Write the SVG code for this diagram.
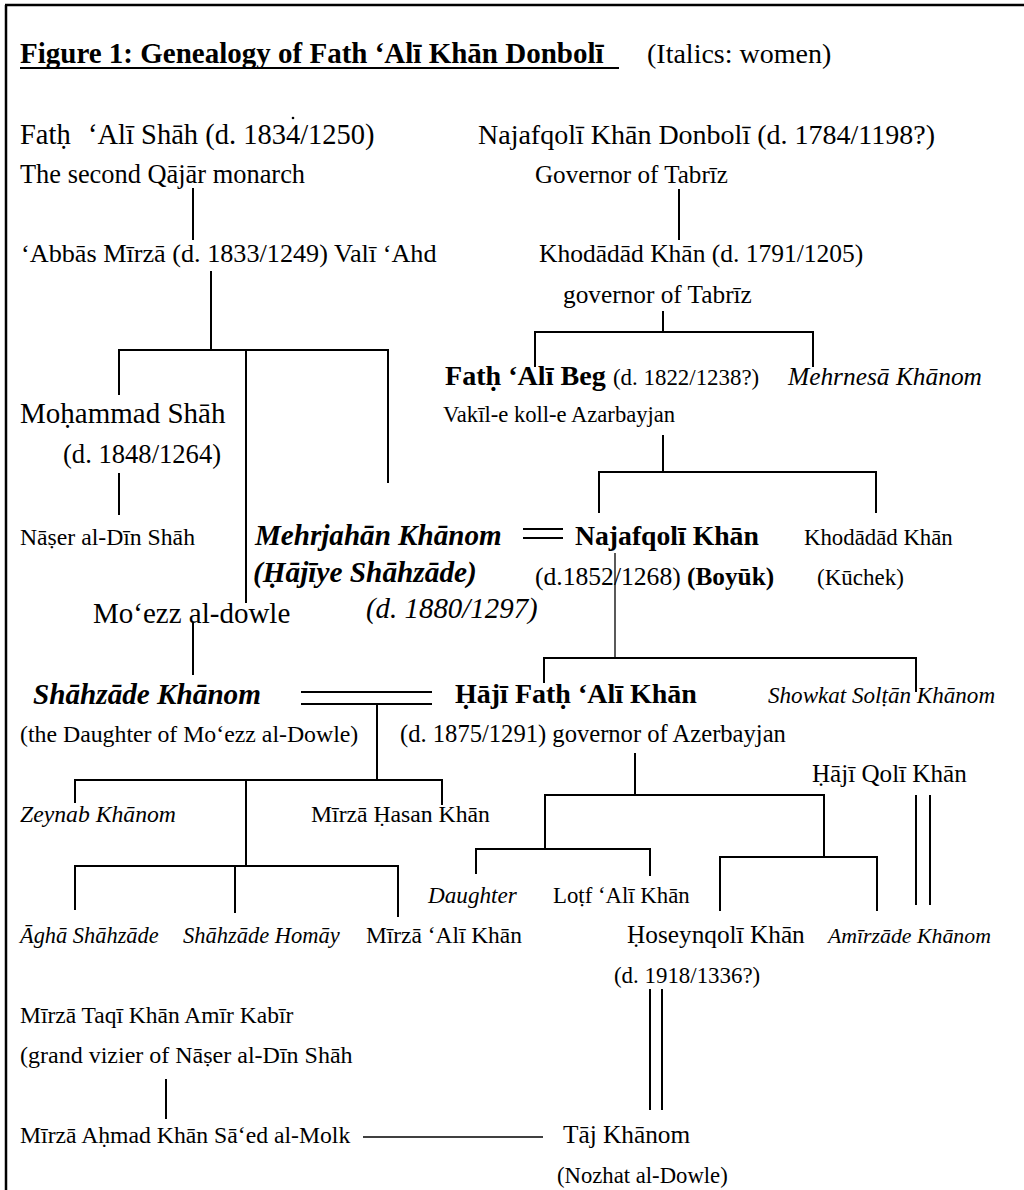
<svg xmlns="http://www.w3.org/2000/svg" width="1024" height="1190" viewBox="0 0 1024 1190">
<style>
text{font-family:"Liberation Serif","Times New Roman",serif;fill:#000}
.b{font-weight:bold}
.i{font-style:italic}
.bi{font-weight:bold;font-style:italic}
.ln line{stroke:#000;stroke-width:2;fill:none}
.ln line.t{stroke-width:1.3}
</style>
<rect width="1024" height="1190" fill="#fff"/>
<g id="frame" class="ln">
<line x1="5" y1="5" x2="1024" y2="5" style="stroke-width:2.5"/>
<line x1="6" y1="5" x2="6" y2="1190" style="stroke-width:2.5"/>
</g>
<g id="title">
<text x="20" y="63" class="b" font-size="29">Figure 1: Genealogy of Fath ‘Alī Khān Donbolī</text>
<line x1="20" y1="68" x2="619" y2="68" stroke="#000" stroke-width="2"/>
<text x="647" y="63" font-size="28">(Italics: women)</text>
</g>
<g id="n-fath-ali-shah">
<text x="20" y="144" font-size="28.5">Fath&#x323;<tspan x="88">‘Alī Shāh (d. 1834/1250)</tspan></text>
<circle cx="293" cy="118" r="1.3" fill="#000"/>
<text x="20" y="183" font-size="26.4">The second Qājār monarch</text>
</g>
<g id="n-abbas-mirza"><text x="21" y="262" font-size="26.2">‘Abbās Mīrzā (d. 1833/1249) Valī ‘Ahd</text></g>
<g id="n-najafqoli-donboli">
<text x="478" y="144" font-size="28">Najafqolī Khān Donbolī (d. 1784/1198?)</text>
<text x="535" y="183" font-size="25.1">Governor of Tabrīz</text>
</g>
<g id="n-khodadad-1">
<text x="539" y="262" font-size="25.5">Khodādād Khān (d. 1791/1205)</text>
<text x="563" y="303" font-size="25.3">governor of Tabrīz</text>
</g>
<g id="n-fath-ali-beg">
<text x="445" y="385"><tspan class="b" font-size="28.1">Fath&#x323; ‘Alī Beg</tspan><tspan x="613" font-size="22.9">(d. 1822/1238?)</tspan></text>
<text x="443" y="422" font-size="22.6">Vakīl-e koll-e Azarbayjan</text>
</g>
<g id="n-mehrnesa"><text x="788" y="385" class="i" font-size="25.4">Mehrnesā Khānom</text></g>
<g id="n-mohammad-shah">
<text x="20" y="423" font-size="29">Moh&#x323;ammad Shāh</text>
<text x="63" y="463" font-size="26.6">(d. 1848/1264)</text>
</g>
<g id="n-naser"><text x="20" y="545" font-size="23.7">Nās&#x323;er al-Dīn Shāh</text></g>
<g id="n-mehrjahan">
<text x="255" y="545" class="bi" font-size="29.1">Mehrjahān Khānom</text>
<text x="253" y="582" class="bi" font-size="29.3">(H&#x323;ājīye Shāhzāde)</text>
<text x="366" y="618" class="i" font-size="28.9">(d. 1880/1297)</text>
</g>
<g id="n-moezz"><text x="93" y="623" font-size="29">Mo‘ezz al-dowle</text></g>
<g id="n-najafqoli">
<text x="575" y="545" class="b" font-size="27.7">Najafqolī Khān</text>
<text x="535" y="585"><tspan font-size="25.6">(d.1852/1268)</tspan><tspan x="687" class="b" font-size="25.3">(Boyūk)</tspan></text>
</g>
<g id="n-khodadad-2">
<text x="804" y="545" font-size="22.8">Khodādād Khān</text>
<text x="817" y="585" font-size="23">(Kūchek)</text>
</g>
<g id="n-shahzade-khanom">
<text x="33" y="704" class="bi" font-size="29.2">Shāhzāde Khānom</text>
<text x="20" y="742" font-size="23.8">(the Daughter of Mo‘ezz al-Dowle)</text>
</g>
<g id="n-haji-fath-ali">
<text x="455" y="703" class="b" font-size="28">H&#x323;ājī Fath&#x323; ‘Alī Khān</text>
<text x="400" y="742" font-size="24.6">(d. 1875/1291) governor of Azerbayjan</text>
</g>
<g id="n-showkat"><text x="768" y="703" class="i" font-size="23.1">Showkat Solt&#x323;ān Khānom</text></g>
<g id="n-haji-qoli"><text x="812" y="782" font-size="25.1">H&#x323;ājī Qolī Khān</text></g>
<g id="n-zeynab"><text x="20" y="822" class="i" font-size="23.7">Zeynab Khānom</text></g>
<g id="n-hasan"><text x="311" y="822" font-size="23.7">Mīrzā H&#x323;asan Khān</text></g>
<g id="n-agha"><text x="20" y="943" class="i" font-size="22.4">Āghā Shāhzāde</text></g>
<g id="n-homay"><text x="183" y="943" class="i" font-size="22.5">Shāhzāde Homāy</text></g>
<g id="n-mirza-ali"><text x="366" y="943" font-size="23.4">Mīrzā ‘Alī Khān</text></g>
<g id="n-daughter"><text x="428" y="903" class="i" font-size="23.2">Daughter</text></g>
<g id="n-lotf"><text x="553" y="903" font-size="22.8">Lot&#x323;f ‘Alī Khān</text></g>
<g id="n-hoseynqoli">
<text x="627" y="943" font-size="25.3">H&#x323;oseynqolī Khān</text>
<text x="614" y="983" font-size="22.9">(d. 1918/1336?)</text>
</g>
<g id="n-amirzade"><text x="828" y="943" class="i" font-size="21.8">Amīrzāde Khānom</text></g>
<g id="n-amir-kabir">
<text x="20" y="1023" font-size="23.5">Mīrzā Taqī Khān Amīr Kabīr</text>
<text x="20" y="1063" font-size="24">(grand vizier of Nās&#x323;er al-Dīn Shāh</text>
</g>
<g id="n-ahmad"><text x="20" y="1143" font-size="23.7">Mīrzā Ah&#x323;mad Khān Sā‘ed al-Molk</text></g>
<g id="n-taj">
<text x="563" y="1143" font-size="25.3">Tāj Khānom</text>
<text x="557" y="1183" font-size="22.7">(Nozhat al-Dowle)</text>
</g>
<g id="connectors" class="ln">
<line x1="193" y1="188" x2="193" y2="240"/>
<line x1="211" y1="271" x2="211" y2="350"/>
<line x1="118" y1="350" x2="389" y2="350"/>
<line x1="119" y1="350" x2="119" y2="395"/>
<line x1="246" y1="350" x2="246" y2="603"/>
<line x1="388" y1="350" x2="388" y2="483"/>
<line x1="119" y1="473" x2="119" y2="515"/>
<line x1="193" y1="622" x2="193" y2="675"/>
<line x1="301" y1="692" x2="432" y2="692"/>
<line x1="301" y1="704" x2="432" y2="704"/>
<line x1="377" y1="704" x2="377" y2="780"/>
<line x1="74" y1="780" x2="443" y2="780"/>
<line x1="75" y1="780" x2="75" y2="803"/>
<line x1="442" y1="780" x2="442" y2="805"/>
<line x1="246" y1="780" x2="246" y2="866"/>
<line x1="74" y1="866" x2="399" y2="866"/>
<line x1="75" y1="866" x2="75" y2="910"/>
<line x1="235" y1="866" x2="235" y2="913"/>
<line x1="398" y1="866" x2="398" y2="917"/>
<line x1="166" y1="1079" x2="166" y2="1119"/>
<line x1="363" y1="1137" x2="543" y2="1137" class="t"/>
<line x1="679" y1="189" x2="679" y2="240"/>
<line x1="663" y1="311" x2="663" y2="332"/>
<line x1="534" y1="332" x2="814" y2="332"/>
<line x1="535" y1="332" x2="535" y2="367"/>
<line x1="813" y1="332" x2="813" y2="367"/>
<line x1="663" y1="435" x2="663" y2="472"/>
<line x1="598" y1="472" x2="877" y2="472"/>
<line x1="599" y1="472" x2="599" y2="513"/>
<line x1="876" y1="472" x2="876" y2="513"/>
<line x1="523" y1="529" x2="563" y2="529"/>
<line x1="523" y1="538" x2="563" y2="538"/>
<line x1="615" y1="553" x2="615" y2="658" class="t"/>
<line x1="543" y1="658" x2="917" y2="658"/>
<line x1="544" y1="658" x2="544" y2="683"/>
<line x1="916" y1="658" x2="916" y2="692"/>
<line x1="635" y1="753" x2="635" y2="795"/>
<line x1="544" y1="795" x2="825" y2="795"/>
<line x1="545" y1="795" x2="545" y2="849"/>
<line x1="475" y1="849" x2="651" y2="849"/>
<line x1="476" y1="849" x2="476" y2="874"/>
<line x1="650" y1="849" x2="650" y2="876"/>
<line x1="824" y1="795" x2="824" y2="857"/>
<line x1="719" y1="857" x2="878" y2="857"/>
<line x1="720" y1="857" x2="720" y2="911"/>
<line x1="877" y1="857" x2="877" y2="911"/>
<line x1="916" y1="795" x2="916" y2="905"/>
<line x1="930" y1="795" x2="930" y2="905"/>
<line x1="650" y1="989" x2="650" y2="1110"/>
<line x1="662" y1="989" x2="662" y2="1110"/>
</g>
</svg>
